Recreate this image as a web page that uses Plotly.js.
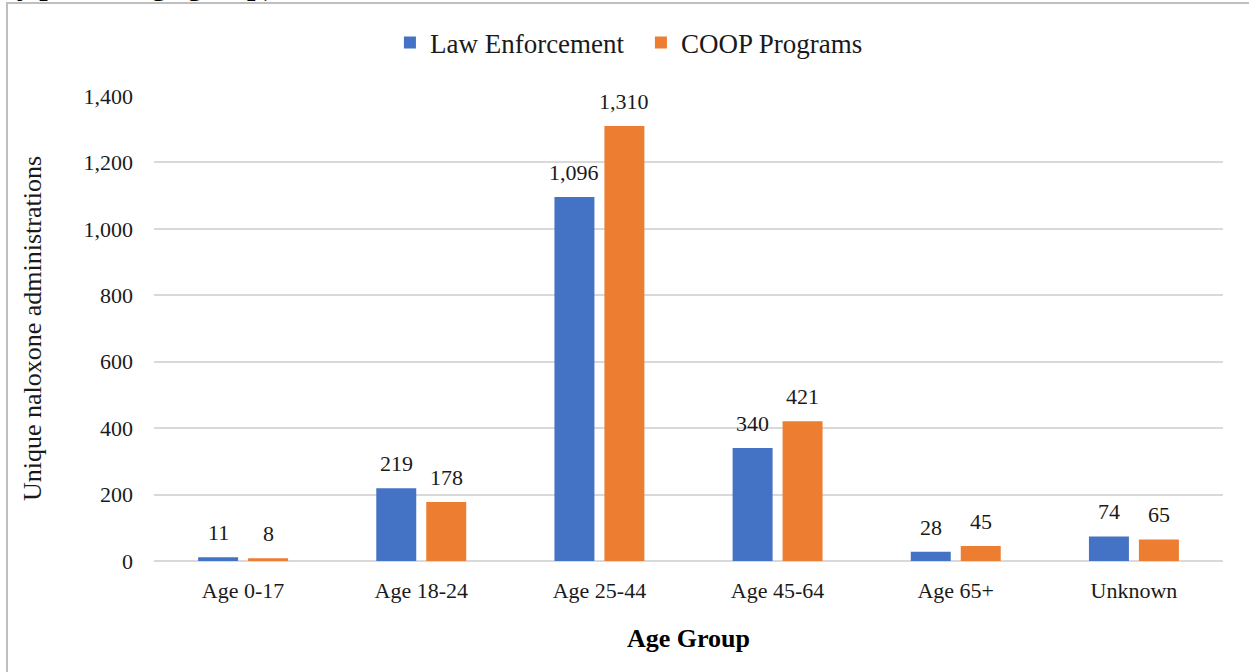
<!DOCTYPE html>
<html>
<head>
<meta charset="utf-8">
<script src="https://cdn.plot.ly/plotly-3.0.1.min.js"></script>
<style>
  html, body { margin: 0; padding: 0; background: #fff; overflow: hidden; }
  #wrap { position: relative; width: 1249px; height: 672px; overflow: hidden; }
  #chart { position: absolute; left: 0; top: 0; width: 1249px; height: 672px; }
  #frame { position: absolute; left: 6px; top: 2px; width: 1300px; height: 800px;
           border: 2px solid #bfbfbf; box-sizing: border-box; pointer-events: none; }
  #cut { position: absolute; left: 0px; top: -30px; font-family: "Liberation Serif", serif;
         font-weight: bold; font-size: 30px; line-height: 30px; color: #000; white-space: nowrap; }
</style>
</head>
<body>
<div id="wrap">
  <div id="chart"></div>
  <div id="frame"></div>
  <div id="cut">by patient age group)</div>
</div>
<script>
const categories = ["Age 0-17", "Age 18-24", "Age 25-44", "Age 45-64", "Age 65+", "Unknown"];
const seriesNames = ["Law Enforcement", "COOP Programs"];
const lawEnforcement = [11, 219, 1096, 340, 28, 74];
const coopPrograms = [8, 178, 1310, 421, 45, 65];
const yTickVals = [0, 200, 400, 600, 800, 1000, 1200, 1400];

const colors = ["#4472C4", "#ED7D31"];
const font = "Liberation Serif";
const fmt = v => v.toLocaleString("en-US");

const traces = [lawEnforcement, coopPrograms].map((vals, i) => ({
  type: "bar",
  name: seriesNames[i],
  x: categories,
  y: vals,
  marker: { color: colors[i] },
  hoverinfo: "x+y+name"
}));

const annotations = [];
[lawEnforcement, coopPrograms].forEach((vals, i) => {
  vals.forEach((v, j) => {
    annotations.push({
      xref: "x", yref: "y", x: categories[j], y: v,
      xshift: i === 0 ? -25 : 25, yshift: 10,
      yanchor: "bottom", xanchor: "center",
      text: fmt(v), showarrow: false,
      font: { family: font, size: 22, color: "#1a1a1a" }
    });
  });
});

const layout = {
  width: 1249, height: 672,
  margin: { l: 154, r: 26, t: 96, b: 111 },
  paper_bgcolor: "rgba(0,0,0,0)",
  plot_bgcolor: "#fff",
  barmode: "group",
  bargap: 0.439,
  bargroupgap: 0.2,
  font: { family: font, color: "#1a1a1a", size: 22 },
  showlegend: true,
  legend: {
    orientation: "h", xref: "paper", yref: "paper",
    x: 0.4555, xanchor: "center", y: 1.167, yanchor: "top",
    font: { family: font, size: 27, color: "#1a1a1a" },
    itemwidth: 30, entrywidth: 206,
    bgcolor: "rgba(0,0,0,0)", traceorder: "normal"
  },
  xaxis: {
    type: "category",
    showgrid: false, zeroline: false, showline: false, ticks: "",
    ticklabelstandoff: 14,
    tickfont: { family: font, size: 22, color: "#1a1a1a" },
    title: { text: "<b>Age Group</b>", font: { family: font, size: 26, color: "#000" }, standoff: 26 },
    automargin: true
  },
  yaxis: {
    range: [0, 1400], tickvals: yTickVals, ticktext: yTickVals.map(fmt),
    showgrid: true, gridcolor: "#d9d9d9", gridwidth: 2,
    zeroline: true, zerolinecolor: "#d9d9d9", zerolinewidth: 2,
    showline: false, ticks: "", ticklabelstandoff: 20,
    tickfont: { family: font, size: 22, color: "#1a1a1a" },
    title: { text: "Unique naloxone administrations", font: { family: font, size: 26, color: "#1a1a1a" }, standoff: 34 },
    automargin: true
  },
  annotations: annotations
};

Plotly.newPlot("chart", traces, layout, { displayModeBar: false, staticPlot: true });
</script>
</body>
</html>
